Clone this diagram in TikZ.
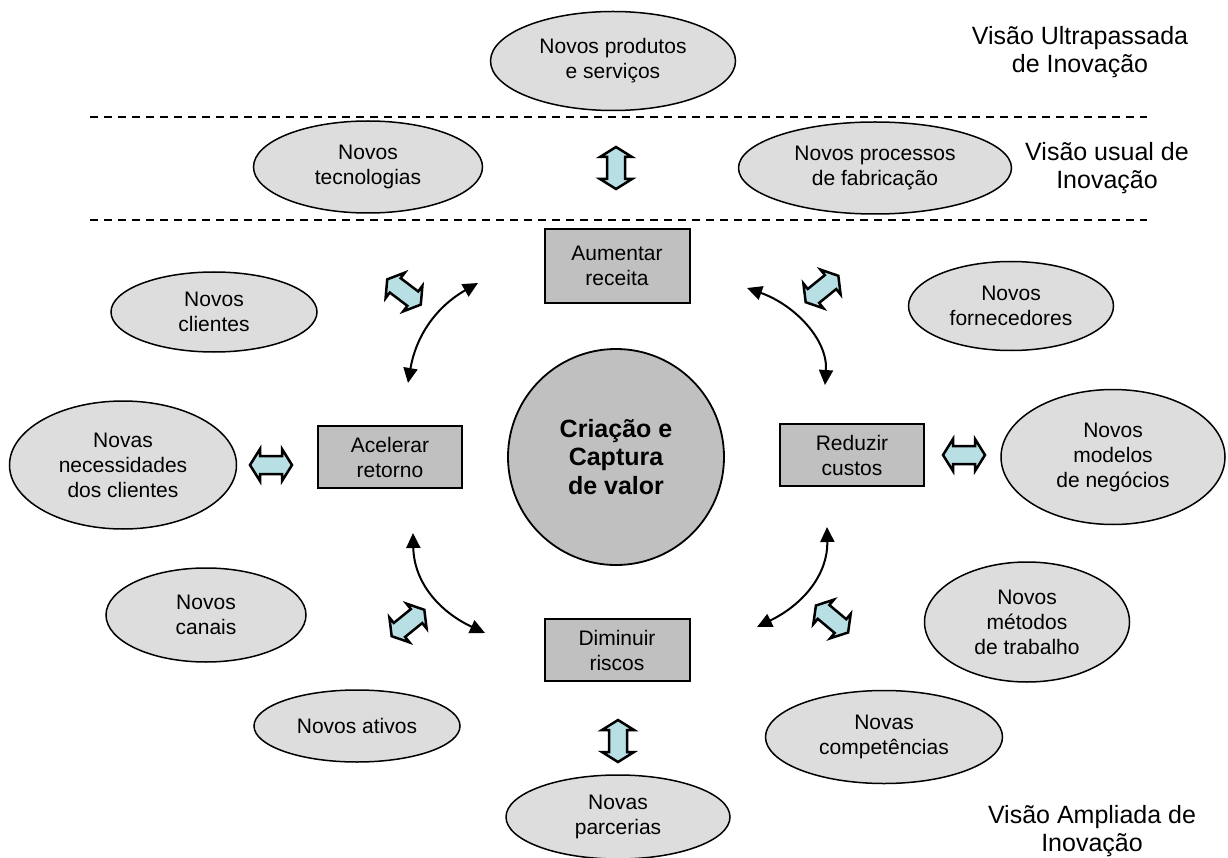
\documentclass[tikz,border=0pt]{standalone}
\usepackage{fontspec}
\setmainfont{Liberation Sans}
\usetikzlibrary{shapes.geometric,arrows.meta}
\definecolor{ellfill}{RGB}{221,221,221}
\definecolor{boxfill}{RGB}{192,192,192}
\definecolor{arrfill}{RGB}{184,224,228}
\tikzset{
  ell/.style={ellipse,draw=black,line width=1.5pt,fill=ellfill,inner sep=0pt,align=center,font=\fontsize{21}{25}\selectfont},
  box/.style={rectangle,draw=black,line width=2pt,fill=boxfill,inner sep=0pt,align=center,font=\fontsize{21}{25}\selectfont},
  core/.style={circle,draw=black,line width=1.8pt,fill=boxfill,inner sep=0pt,minimum size=216pt,align=center,font=\fontsize{25}{28.5}\selectfont\bfseries},
  lbl/.style={align=center,inner sep=0pt,font=\fontsize{25}{28.5}\selectfont},
  sepline/.style={line width=1.5pt,dash pattern=on 8pt off 6pt},
  curv/.style={line width=2pt,{Triangle[length=15pt,width=14pt]}-{Triangle[length=15pt,width=14pt]}},
  blockarr/.style={draw=black,line width=2.5pt,fill=arrfill,line join=miter},
  dblarrow/.pic={\path[blockarr] (-21,0) -- (-11,-16) -- (-11,-9) -- (11,-9) -- (11,-16) -- (21,0) -- (11,16) -- (11,9) -- (-11,9) -- (-11,16) -- cycle;}
}
\begin{document}
\begin{tikzpicture}[x=1pt,y=-1pt]
\useasboundingbox (0,0) rectangle (1228,858);
% separators
\coordinate (d1a) at (90,117); \coordinate (d1b) at (1147,117);
\coordinate (d2a) at (90,220); \coordinate (d2b) at (1147,220);
\draw[sepline] (d1a) -- (d1b);
\draw[sepline] (d2a) -- (d2b);
% labels
\node[lbl] (lab1) at (1080,52) {Visão Ultrapassada\\de Inovação};
\node[lbl] (lab2) at (1107,168) {Visão usual de\\Inovação};
\node[lbl] (lab3) at (1092,831) {Visão Ampliada de\\Inovação};
% ellipses
\node[ell,minimum width=245pt,minimum height=99pt] (prod) at (613,61) {Novos produtos\\e serviços};
\node[ell,minimum width=229pt,minimum height=92pt] (tec) at (368,167) {Novos\\tecnologias};
\node[ell,minimum width=273pt,minimum height=92pt] (proc) at (875,168) {Novos processos\\de fabricação};
\node[ell,minimum width=206pt,minimum height=80pt] (cli) at (214,312) {Novos\\clientes};
\node[ell,minimum width=205pt,minimum height=89pt] (forn) at (1011,306) {Novos\\fornecedores};
\node[ell,minimum width=227pt,minimum height=128pt] (nec) at (123,465) {Novas\\necessidades\\dos clientes};
\node[ell,minimum width=224pt,minimum height=135pt] (mod) at (1113,457) {Novos\\modelos\\de negócios};
\node[ell,minimum width=200pt,minimum height=94pt] (can) at (206,615) {Novos\\canais};
\node[ell,minimum width=205pt,minimum height=120pt] (met) at (1027,622) {Novos\\métodos\\de trabalho};
\node[ell,minimum width=206pt,minimum height=72pt] (ati) at (357,726) {Novos ativos};
\node[ell,minimum width=237pt,minimum height=93pt] (comp) at (884,737) {Novas\\competências};
\node[ell,minimum width=224pt,minimum height=84pt] (parc) at (618,817) {Novas\\parcerias};
% boxes
\node[box,minimum width=145pt,minimum height=74pt] (aum) at (617,266) {Aumentar\\receita};
\node[box,minimum width=144pt,minimum height=62pt] (acel) at (390,457) {Acelerar\\retorno};
\node[box,minimum width=144pt,minimum height=62pt] (red) at (852,455) {Reduzir\\custos};
\node[box,minimum width=145pt,minimum height=62pt] (dim) at (617,650) {Diminuir\\riscos};
% centre
\node[core] (cc) at (616,457) {Criação e\\Captura\\de valor};
% block arrows
\pic[rotate=90] at (616,168) {dblarrow};
\pic[rotate=90] at (618,741) {dblarrow};
\pic at (271,465) {dblarrow};
\pic at (964,455) {dblarrow};
\pic[rotate=-37] at (404,292) {dblarrow};
\pic[rotate=39] at (822,289) {dblarrow};
\pic[rotate=39] at (408,623) {dblarrow};
\pic[rotate=-40] at (832,619) {dblarrow};
% curved arrows
\coordinate (c1a) at (408,383); \coordinate (c1b) at (478,283);
\coordinate (c2a) at (825,385); \coordinate (c2b) at (747,288);
\coordinate (c3a) at (413,533); \coordinate (c3b) at (485,633);
\coordinate (c4a) at (827,527); \coordinate (c4b) at (757,627);
\draw[curv] (c1a) .. controls (416,336) and (436,307) .. (c1b);
\draw[curv] (c2a) .. controls (828,340) and (795,305) .. (c2b);
\draw[curv] (c3a) .. controls (414,583) and (440,612) .. (c3b);
\draw[curv] (c4a) .. controls (828,572) and (806,603) .. (c4b);
\end{tikzpicture}
\end{document}
